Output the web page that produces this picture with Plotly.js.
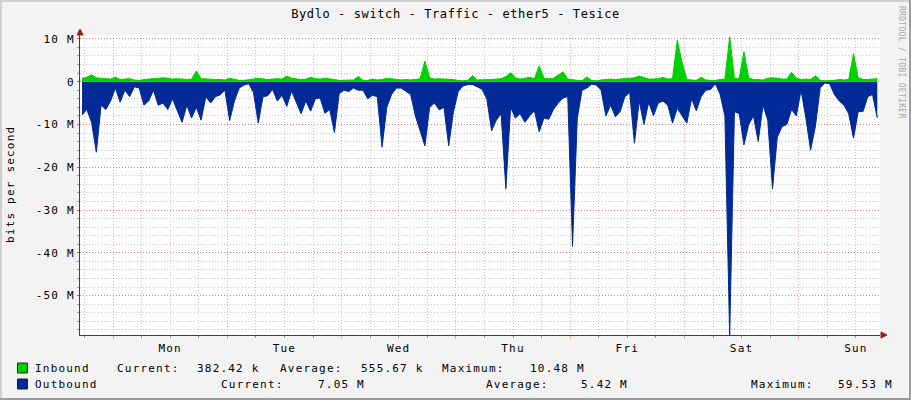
<!DOCTYPE html>
<html><head><meta charset="utf-8">
<script src="https://cdn.plot.ly/plotly-3.0.1.min.js"></script>
<style>
html,body{margin:0;padding:0;background:#f3f3f3;}
#chart{width:911px;height:400px;}
text{letter-spacing:1.2px;}
text.gtitle{letter-spacing:0.6px;}
text[style*="font-size: 8px"]{letter-spacing:0.3px;}
</style></head><body><div id="chart"></div>
<script>
const TITLE = 'Bydlo - switch - Traffic - ether5 - Tesice';
const Y_TITLE = 'bits per second';
const WATERMARK = 'RRDTOOL / TOBI OETIKER';

// hourly samples (Mbit/s), first sample = Sunday 17:30, last = Sunday 16:30 one week later
const inbound = [
  0.8, 1.0, 1.6, 0.9, 0.8, 0.7, 0.6,                       // Sun evening
  1.1, 0.5, 0.6, 0.7, 0.4, 0.3, 0.5, 0.6, 0.6, 0.8, 0.9, 0.8,
  0.6, 0.7, 0.6, 0.5, 0.6, 2.5, 0.7, 0.6, 0.5, 0.5, 0.5, 0.4, // Mon
  0.8, 0.5, 0.3, 0.3, 0.4, 0.6, 0.8, 0.7, 0.5, 0.6, 0.7, 0.6,
  1.3, 0.8, 0.6, 0.5, 0.6, 1.0, 0.7, 0.6, 0.8, 0.7, 0.5, 0.3, // Tue
  0.3, 0.4, 0.4, 1.2, 0.3, 0.3, 0.6, 0.4, 0.5, 0.8, 0.7, 0.6,
  0.4, 0.5, 0.4, 0.5, 0.7, 4.8, 0.9, 0.6, 0.7, 0.6, 0.6, 0.5, // Wed
  0.3, 0.2, 0.3, 1.4, 0.4, 0.4, 0.4, 0.5, 0.6, 0.7, 1.2, 2.1,
  0.9, 0.6, 0.8, 1.0, 0.7, 3.7, 0.8, 0.7, 0.8, 1.5, 2.3, 0.6, // Thu
  0.4, 0.3, 0.2, 1.1, 0.3, 0.2, 0.4, 0.5, 0.6, 0.5, 0.6, 0.6,
  0.7, 0.9, 1.3, 1.0, 0.6, 0.6, 0.7, 1.0, 0.6, 0.7, 9.7, 4.5, // Fri
  0.5, 0.4, 0.3, 1.0, 0.4, 0.3, 0.3, 0.5, 0.6, 10.48, 0.8, 0.7,
  7.0, 0.9, 0.5, 0.5, 0.4, 0.8, 0.9, 0.8, 0.6, 0.6, 2.2, 0.8, // Sat
  0.5, 0.6, 0.5, 1.4, 0.3, 0.2, 0.2, 0.3, 0.5, 0.4, 0.5, 6.5,
  0.9, 0.5, 0.5, 0.6, 0.7                                     // Sun
];
const outbound = [
  -7.8, -6.5, -9.5, -16.5, -5.5, -6.5, -4.5,
  -1.5, -4.8, -2.0, -3.5, -1.2, -1.5, -5.5, -4.5, -2.0, -5.5, -5.0, -6.5,
  -4.0, -6.8, -9.5, -5.5, -8.5, -6.0, -9.0, -3.5, -5.0, -3.5, -3.1, -2.0,
  -9.1, -4.5, -1.5, -0.8, -0.5, -2.5, -9.7, -3.5, -3.3, -1.8, -4.5, -3.2,
  -5.8, -2.2, -4.8, -7.5, -4.5, -6.9, -4.0, -3.8, -7.4, -6.5, -11.9, -2.8,
  -2.0, -2.3, -1.5, -2.0, -2.0, -4.0, -3.2, -3.5, -15.3, -6.0, -3.0, -1.5,
  -1.5, -2.2, -3.0, -8.0, -11.5, -15.0, -6.0, -5.0, -6.6, -6.0, -15.0, -7.0,
  -2.3, -1.0, -0.7, -0.7, -1.2, -1.8, -4.0, -11.5, -9.0, -7.5, -25.0, -6.0,
  -8.5, -7.5, -9.5, -8.0, -6.8, -11.7, -8.5, -8.8, -6.5, -5.0, -3.8, -3.5,
  -38.5, -8.5, -2.0, -1.5, -0.6, -0.8, -2.0, -8.0, -5.5, -8.2, -7.0, -3.5,
  -2.5, -14.4, -4.5, -10.0, -4.8, -8.0, -5.0, -4.5, -5.5, -9.7, -6.2, -7.8,
  -9.7, -4.0, -6.8, -3.5, -2.0, -1.8, -0.5, -3.0, -8.0, -59.53, -7.0, -7.5,
  -14.8, -10.0, -8.0, -14.0, -5.5, -9.0, -25.0, -13.0, -10.5, -10.0, -6.5, -8.0,
  -2.0, -8.5, -16.0, -10.5, -1.5, -0.3, -0.5, -3.0, -4.5, -5.5, -7.5, -13.2,
  -7.0, -7.0, -3.5, -3.0, -8.5
];

const yTickVals = [10, 0, -10, -20, -30, -40, -50];
const yTickText = ['10 M', '0', '-10 M', '-20 M', '-30 M', '-40 M', '-50 M'];

const legendNames = ['Inbound', 'Outbound'];
const legendColors = ['#00CF00', '#002A97'];
const currentVals = ['382.42 k', '7.05 M'];
const averageVals = ['555.67 k', '5.42 M'];
const maximumVals = ['10.48 M', '59.53 M'];

// ---- time base ----
const H = 3600000;
const base = Date.UTC(2024, 0, 1); // a Monday 00:00
const firstHour = -6.5;
function fmt(ms) {
  const d = new Date(ms);
  const p = n => String(n).padStart(2, '0');
  return d.getUTCFullYear() + '-' + p(d.getUTCMonth() + 1) + '-' + p(d.getUTCDate()) + ' ' +
    p(d.getUTCHours()) + ':' + p(d.getUTCMinutes()) + ':' + p(d.getUTCSeconds());
}
const xs = inbound.map((_, i) => fmt(base + (firstHour + i) * H));
const rangeStart = fmt(base - 6.93 * H);
const rangeEnd = fmt(base + 161.07 * H);

// ---- geometry helpers (pixels -> paper) ----
const ML = 80, MT = 35, PW = 800, PH = 300;
const px = x => (x - ML) / PW;
const py = y => (MT + PH - y) / PH;

const FONT = 'DejaVu Sans Mono, monospace';

const traces = [
  {x: xs, y: outbound, type: 'scatter', mode: 'lines', fill: 'tozeroy',
   fillcolor: legendColors[1], line: {color: legendColors[1], width: 1}, hoverinfo: 'skip'},
  {x: xs, y: inbound, type: 'scatter', mode: 'lines', fill: 'tozeroy',
   fillcolor: legendColors[0], line: {color: legendColors[0], width: 1}, hoverinfo: 'skip'}
];

const annotations = [];
function addText(text, x, y) {
  annotations.push({text: text, xref: 'paper', yref: 'paper', x: px(x), y: py(y),
    xanchor: 'left', yanchor: 'middle', showarrow: false, borderpad: 0,
    font: {family: FONT, size: 11, color: '#000'}});
}
// legend row 1
const row1 = 368, row2 = 384;
addText(legendNames[0], 34, row1);
addText('Current:', 116, row1);
addText(currentVals[0], 196, row1);
addText('Average:', 279, row1);
addText(averageVals[0], 360, row1);
addText('Maximum:', 441, row1);
addText(maximumVals[0], 529, row1);
// legend row 2
addText(legendNames[1], 34, row2);
addText('Current:', 220, row2);
addText(currentVals[1], 317, row2);
addText('Average:', 485, row2);
addText(averageVals[1], 580, row2);
addText('Maximum:', 750, row2);
addText(maximumVals[1], 837, row2);
// y title
annotations.push({text: Y_TITLE, xref: 'paper', yref: 'paper', x: px(10), y: 0.5, textangle: -90,
  xanchor: 'center', yanchor: 'middle', showarrow: false, font: {family: FONT, size: 11, color: '#000'}});
// watermark
annotations.push({text: WATERMARK, xref: 'paper', yref: 'paper', x: px(901), y: py(62), textangle: 90,
  xanchor: 'center', yanchor: 'middle', showarrow: false, font: {family: FONT, size: 8, color: '#a8a8a8'}});

const shapes = [];
// legend swatches
[row1, row2].forEach((r, i) => {
  shapes.push({type: 'rect', xref: 'paper', yref: 'paper', x0: px(17.5), x1: px(27.5), y0: py(r - 5), y1: py(r + 5),
    fillcolor: legendColors[i], line: {color: '#222', width: 1}});
});
// axis arrows
const AR = '#9a1c1c';
shapes.push({type: 'path', xref: 'paper', yref: 'paper', fillcolor: AR, line: {color: AR, width: 1},
  path: `M ${px(77)},${py(35)} L ${px(83)},${py(35)} L ${px(80)},${py(29)} Z`});
shapes.push({type: 'path', xref: 'paper', yref: 'paper', fillcolor: AR, line: {color: AR, width: 1},
  path: `M ${px(881)},${py(332)} L ${px(881)},${py(338)} L ${px(887)},${py(335)} Z`});
// frame
shapes.push({type: 'rect', xref: 'paper', yref: 'paper', x0: px(909), x1: px(911), y0: py(400), y1: py(0),
  fillcolor: '#9c9c9c', line: {width: 0}});
shapes.push({type: 'rect', xref: 'paper', yref: 'paper', x0: px(0), x1: px(911), y0: py(400), y1: py(398),
  fillcolor: '#9c9c9c', line: {width: 0}});
shapes.push({type: 'rect', xref: 'paper', yref: 'paper', x0: px(0), x1: px(909), y0: py(2), y1: py(0),
  fillcolor: '#d0d0d0', line: {width: 0}});
shapes.push({type: 'rect', xref: 'paper', yref: 'paper', x0: px(0), x1: px(2), y0: py(398), y1: py(0),
  fillcolor: '#d0d0d0', line: {width: 0}});

const MAJOR = 'rgba(255,0,0,0.35)';
const MINOR = '#c8c8c8';

const layout = {
  width: 911, height: 400,
  paper_bgcolor: '#f3f3f3', plot_bgcolor: '#ffffff',
  margin: {l: ML, r: 911 - ML - PW, t: MT, b: 400 - MT - PH},
  showlegend: false,
  font: {family: FONT, size: 11, color: '#000'},
  title: {text: TITLE, x: 0.5, xref: 'container', xanchor: 'center', y: 1 - 14 / 400, yref: 'container',
    yanchor: 'middle', font: {family: FONT, size: 12, color: '#000'}},
  xaxis: {
    type: 'date', range: [rangeStart, rangeEnd], tick0: fmt(base), dtick: 86400000,
    tickformat: '%a', ticklabelmode: 'period',
    showgrid: true, gridcolor: MAJOR, griddash: '1px,2px', gridwidth: 1,
    ticks: 'outside', ticklen: 3, tickcolor: MAJOR,
    showline: true, linecolor: '#404040', linewidth: 1, zeroline: false, fixedrange: true,
    tickfont: {family: FONT, size: 11, color: '#000'},
    minor: {dtick: 6 * H, showgrid: true, gridcolor: MINOR, griddash: '1px,2px', ticks: 'outside', ticklen: 2, tickcolor: '#999'}
  },
  yaxis: {
    range: [-59.2, 10.9], tickmode: 'array', tickvals: yTickVals, ticktext: yTickText,
    showgrid: true, gridcolor: MAJOR, griddash: '1px,2px', gridwidth: 1,
    ticks: 'outside', ticklen: 2, tickcolor: MAJOR,
    showline: true, linecolor: '#404040', linewidth: 1, zeroline: false, fixedrange: true,
    tickfont: {family: FONT, size: 11, color: '#000'},
    minor: {dtick: 2, tick0: 0, showgrid: true, gridcolor: MINOR, griddash: '1px,2px', ticks: 'outside', ticklen: 2, tickcolor: '#999'}
  },
  annotations: annotations,
  shapes: shapes
};

Plotly.newPlot('chart', traces, layout, {staticPlot: true, displayModeBar: false});
</script></body></html>
